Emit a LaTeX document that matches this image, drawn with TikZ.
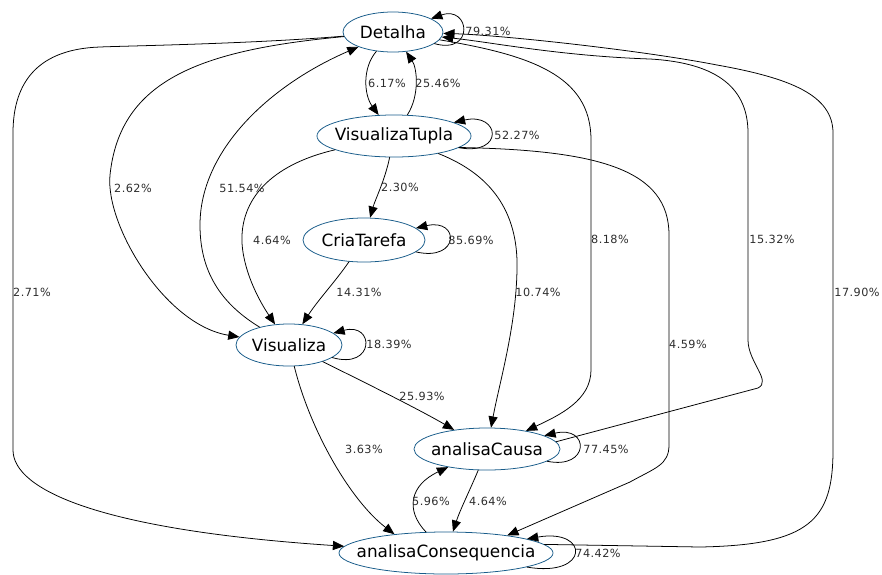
\documentclass[tikz,border=0pt]{standalone}
\usepackage{fontspec}
\setmainfont{DejaVu Sans}
\newfontfamily\pctfont[LetterSpace=4]{DejaVu Sans}
\usetikzlibrary{shapes.geometric,arrows.meta}
\definecolor{stateblue}{RGB}{24,92,138}
\definecolor{pctgray}{RGB}{45,45,45}
\tikzset{
  state/.style={ellipse,draw=stateblue,line width=0.55pt,inner sep=0pt,minimum height=1.05cm,font=\fontsize{12}{14}\selectfont},
  tr/.style={draw=black,line width=0.55pt,-{Triangle[length=8pt,width=6.5pt]}},
  pct/.style={font=\pctfont\fontsize{8}{9}\selectfont,text=pctgray,inner sep=0pt}
}
\newcommand{\nm}[1]{\makebox[0pt]{#1}}
\begin{document}
\begin{tikzpicture}[x=0.025cm,y=-0.025cm,line join=round,line cap=round]
	\useasboundingbox (0,0) rectangle (882,574);
	% estados
	\node[state,minimum width=2.5cm,minimum height=1cm] (det) at (393,32) {\nm{Detalha}};
	\node[state,minimum width=3.85cm] (vtup) at (394,136) {\nm{VisualizaTupla}};
	\node[state,minimum width=3.05cm,minimum height=1.1cm] (cria) at (364,240) {\nm{CriaTarefa}};
	\node[state,minimum width=2.65cm] (vis) at (289,345) {\nm{Visualiza}};
	\node[state,minimum width=3.65cm] (acausa) at (487,449) {\nm{analisaCausa}};
	\node[state,minimum width=5.35cm] (acons) at (446,553) {\nm{analisaConsequencia}};
	% transicoes
	\draw[tr] (det) .. controls (475,55) and (470,5) .. (det);
	\draw[tr] (det) .. controls (362,68) and (364,95) .. (vtup);
	\draw[tr] (vtup) .. controls (420,95) and (417,68) .. (det);
	\draw[tr] (vtup) .. controls (505,156) and (500,112) .. (vtup);
	\draw[tr] (vtup) .. controls (385,180) and (375,200) .. (cria);
	\draw[tr] (cria) .. controls (460,262) and (460,218) .. (cria);
	\draw[tr] (vtup) .. controls (270,165) and (240,200) .. (242,243) .. controls (244,275) and (262,305) .. (vis);
	\draw[tr] (cria) .. controls (335,282) and (318,300) .. (vis);
	\draw[tr] (vis) .. controls (215,300) and (200,265) .. (200,225) .. controls (200,150) and (270,85) .. (det);
	\draw[tr] (det) .. controls (200,50) and (120,80) .. (110,175) .. controls (105,225) and (165,325) .. (vis);
	\draw[tr] (det) .. controls (250,44) and (120,46) .. (100,47) .. controls (40,49) and (13,80) .. (13,133)
		-- (13,450) .. controls (13,490) and (100,530) .. (acons);
	\draw[tr] (vis) .. controls (375,370) and (375,322) .. (vis);
	\draw[tr] (vis) .. controls (370,385) and (420,410) .. (acausa);
	\draw[tr] (vis) .. controls (310,430) and (350,500) .. (acons.160);
	\draw[tr] (vtup) .. controls (480,170) and (515,200) .. (517,260) .. controls (518,320) and (500,380) .. (acausa);
	\draw[tr] (det) .. controls (530,55) and (591,75) .. (591,140) -- (591,370) .. controls (591,400) and (560,415) .. (acausa);
	\draw[tr] (acausa.6) -- (758,388) .. controls (772,381) and (748,362) .. (748,340) -- (748,133)
		.. controls (748,90) and (720,63) .. (650,59) .. controls (560,56) and (490,42) .. (det);
	\draw[tr] (acons.5) -- (700,547) .. controls (810,545) and (833,520) .. (833,450) -- (833,133)
		.. controls (833,95) and (790,78) .. (717,65) .. controls (640,50) and (500,35) .. (det);
	\draw[tr] (vtup.-10) .. controls (600,150) and (669,170) .. (669,235) -- (669,445)
		.. controls (669,465) and (655,468) .. (630,482) -- (acons.16);
	\draw[tr] (acausa) .. controls (590,470) and (590,425) .. (acausa);
	\draw[tr] (acausa) .. controls (470,490) and (460,510) .. (acons);
	\draw[tr] (acons) .. controls (405,510) and (410,485) .. (acausa);
	\draw[tr] (acons) .. controls (590,578) and (590,528) .. (acons);
	% rotulos
	\node[pct] (p1) at (488,31) {79.31\%};
	\node[pct] (p2) at (387,83) {6.17\%};
	\node[pct] (p3) at (438,83) {25.46\%};
	\node[pct] (p4) at (517,135) {52.27\%};
	\node[pct] (p5) at (400,187) {2.30\%};
	\node[pct] (p6) at (471,240) {85.69\%};
	\node[pct] (p7) at (272,240) {4.64\%};
	\node[pct] (p8) at (359,292) {14.31\%};
	\node[pct] (p9) at (242,188) {51.54\%};
	\node[pct] (p10) at (133,188) {2.62\%};
	\node[pct] (p11) at (32,292) {2.71\%};
	\node[pct] (p12) at (389,344) {18.39\%};
	\node[pct] (p13) at (422,396) {25.93\%};
	\node[pct] (p14) at (364,449) {3.63\%};
	\node[pct] (p15) at (538,292) {10.74\%};
	\node[pct] (p16) at (610,239) {8.18\%};
	\node[pct] (p17) at (772,239) {15.32\%};
	\node[pct] (p18) at (857,292) {17.90\%};
	\node[pct] (p19) at (688,344) {4.59\%};
	\node[pct] (p20) at (606,449) {77.45\%};
	\node[pct] (p21) at (488,501) {4.64\%};
	\node[pct] (p22) at (431,501) {5.96\%};
	\node[pct] (p23) at (598,553) {74.42\%};
\end{tikzpicture}
\end{document}
